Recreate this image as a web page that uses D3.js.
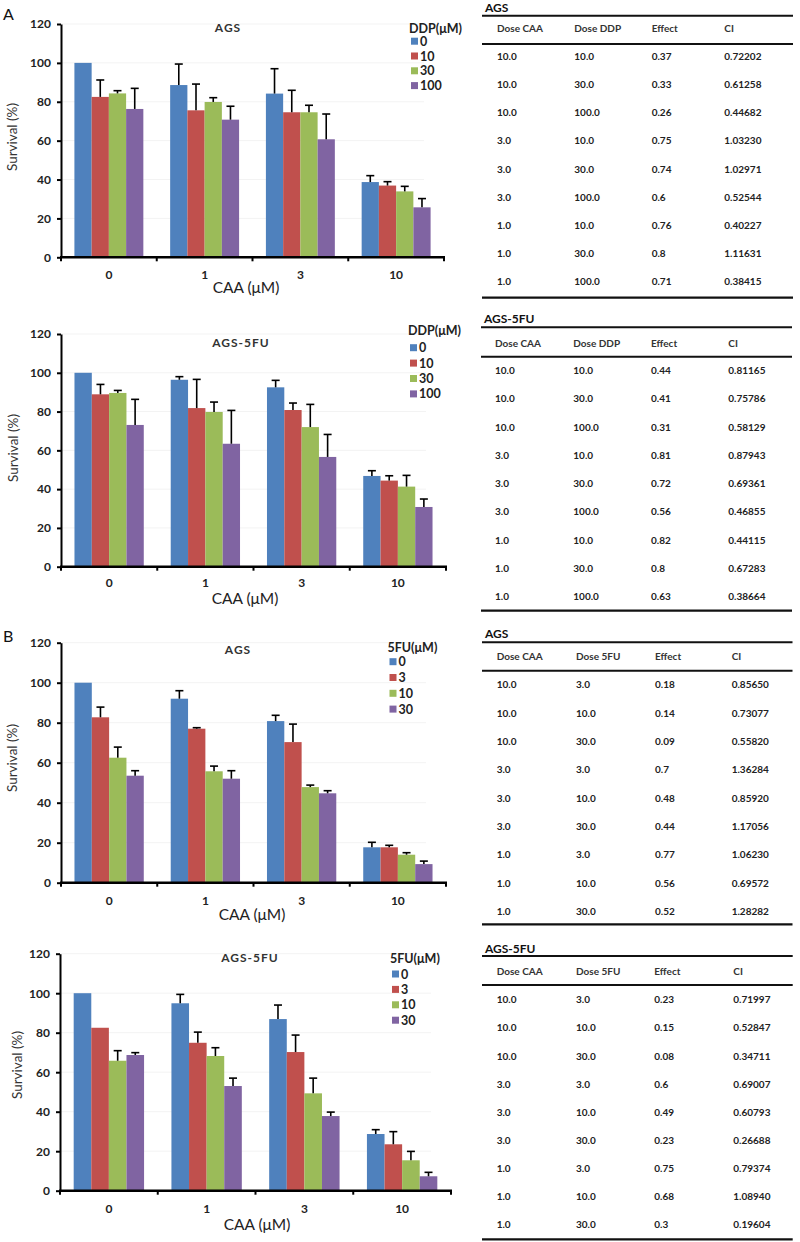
<!DOCTYPE html>
<html>
<head>
<meta charset="utf-8">
<script src="https://cdn.jsdelivr.net/npm/d3@7/dist/d3.min.js"></script>
<style>
  html, body { margin: 0; padding: 0; background: #fff; }
  svg { display: block; }
  text { font-family: Lato, "Open Sans", "Liberation Sans", sans-serif; }
</style>
</head>
<body>
<svg id="fig" width="800" height="1242"></svg>
<script>
// ---------------- DATA ----------------
const categories = ["0", "1", "3", "10"];           // CAA (µM)
const ddpLevels = ["0", "10", "30", "100"];         // DDP (µM)
const fuLevels = ["0", "3", "10", "30"];            // 5FU (µM)
const seriesColors = ["#4F81BD", "#C0504D", "#9BBB59", "#8064A2"];
const yTicks = [0, 20, 40, 60, 80, 100, 120];

// survival (%) per CAA group, one value per drug level
const agsDDP = [[100, 82.5, 84.3, 76.3], [88.6, 75.6, 79.9, 70.8], [84.2, 74.6, 74.6, 60.7], [38.7, 36.9, 33.9, 25.7]];
const agsDDPErr = [[0, 8.7, 1.4, 10.6], [10.8, 13.5, 2.2, 6.9], [12.8, 11.3, 3.6, 13.0], [3.3, 2.0, 2.6, 4.5]];

const ags5fuDDP = [[100, 88.9, 89.6, 73.1], [96.4, 81.8, 79.8, 63.4], [92.5, 80.8, 72.0, 56.6], [46.8, 44.4, 41.3, 30.8]];
const ags5fuDDPErr = [[0, 5.1, 1.3, 13.2], [1.6, 14.8, 5.1, 17.2], [3.6, 3.6, 11.7, 11.6], [2.7, 2.5, 5.8, 4.1]];

const ags5FU = [[100, 82.7, 62.5, 53.5], [92.0, 77.0, 55.7, 52.0], [80.8, 70.3, 47.8, 44.7], [17.7, 17.7, 14.0, 9.3]];
const ags5FUErr = [[0, 5.1, 5.3, 2.5], [4.0, 0.5, 2.6, 4.0], [2.9, 9.0, 1.0, 1.3], [2.5, 1.0, 1.0, 1.5]];

const ags5fu5FU = [[100, 82.5, 65.8, 68.7], [94.9, 74.9, 68.2, 53.0], [86.9, 70.2, 49.3, 37.8], [28.7, 23.5, 15.4, 7.3]];
const ags5fu5FUErr = [[0, 0, 5.1, 1.2], [4.5, 5.4, 4.2, 4.0], [7.1, 8.6, 7.7, 2.0], [2.2, 6.4, 4.5, 2.0]];

// combination index tables
const tableHeadDDP = ["Dose CAA", "Dose DDP", "Effect", "CI"];
const tableHead5FU = ["Dose CAA", "Dose 5FU", "Effect", "CI"];
const doseCAA = ["10.0", "10.0", "10.0", "3.0", "3.0", "3.0", "1.0", "1.0", "1.0"];
const doseDDP = ["10.0", "30.0", "100.0", "10.0", "30.0", "100.0", "10.0", "30.0", "100.0"];
const dose5FU = ["3.0", "10.0", "30.0", "3.0", "10.0", "30.0", "3.0", "10.0", "30.0"];
const effAgsDDP = ["0.37", "0.33", "0.26", "0.75", "0.74", "0.6", "0.76", "0.8", "0.71"];
const ciAgsDDP = ["0.72202", "0.61258", "0.44682", "1.03230", "1.02971", "0.52544", "0.40227", "1.11631", "0.38415"];
const effAgs5fuDDP = ["0.44", "0.41", "0.31", "0.81", "0.72", "0.56", "0.82", "0.8", "0.63"];
const ciAgs5fuDDP = ["0.81165", "0.75786", "0.58129", "0.87943", "0.69361", "0.46855", "0.44115", "0.67283", "0.38664"];
const effAgs5FU = ["0.18", "0.14", "0.09", "0.7", "0.48", "0.44", "0.77", "0.56", "0.52"];
const ciAgs5FU = ["0.85650", "0.73077", "0.55820", "1.36284", "0.85920", "1.17056", "1.06230", "0.69572", "1.28282"];
const effAgs5fu5FU = ["0.23", "0.15", "0.08", "0.6", "0.49", "0.23", "0.75", "0.68", "0.3"];
const ciAgs5fu5FU = ["0.71997", "0.52847", "0.34711", "0.69007", "0.60793", "0.26688", "0.79374", "1.08940", "0.19604"];

// ---------------- DRAWING ----------------
const svg = d3.select("#fig");

function drawChart(cfg) {
  const g = svg.append("g");
  const x = d3.scaleBand().domain(categories).range([cfg.x0, cfg.x1]).padding(0);
  const inner = d3.scaleBand().domain(d3.range(cfg.levels.length))
    .range([x.bandwidth() * 0.14, x.bandwidth() * 0.86]).padding(0);
  const y = d3.scaleLinear().domain([0, 120]).range([cfg.yb, cfg.yt]);

  // faint gridlines
  g.append("g").selectAll("line").data(yTicks.slice(1)).join("line")
    .attr("x1", cfg.x0).attr("x2", cfg.x1 - 20)
    .attr("y1", d => y(d)).attr("y2", d => y(d))
    .attr("stroke", "#f3f3f3").attr("stroke-width", 1);

  // bars
  const groups = g.append("g").selectAll("g").data(cfg.values).join("g")
    .attr("transform", (d, i) => `translate(${x(categories[i])},0)`);
  groups.selectAll("rect").data(d => d).join("rect")
    .attr("x", (d, j) => inner(j)).attr("width", inner.bandwidth())
    .attr("y", d => y(d)).attr("height", d => y(0) - y(d))
    .attr("fill", (d, j) => seriesColors[j]);

  // error bars (upper only)
  groups.each(function (row, i) {
    const eg = d3.select(this);
    row.forEach((v, j) => {
      const e = cfg.errors[i][j];
      if (!e) return;
      const cx = inner(j) + inner.bandwidth() / 2;
      eg.append("line").attr("x1", cx).attr("x2", cx)
        .attr("y1", y(v)).attr("y2", y(v + e))
        .attr("stroke", "#000").attr("stroke-width", 1.6);
      eg.append("line").attr("x1", cx - 4).attr("x2", cx + 4)
        .attr("y1", y(v + e)).attr("y2", y(v + e))
        .attr("stroke", "#000").attr("stroke-width", 1.6);
    });
  });

  // y axis
  const ya = g.append("g").attr("transform", `translate(${cfg.x0},0)`)
    .call(d3.axisLeft(y).tickValues(yTicks).tickSize(4).tickPadding(6).tickSizeOuter(0));
  ya.select(".domain").attr("stroke", "#000").attr("stroke-width", 2);
  ya.selectAll(".tick line").attr("stroke", "#000").attr("stroke-width", 2);
  ya.selectAll(".tick text").attr("font-size", 12).attr("font-weight", "bold").attr("fill", "#222");

  // x axis: line plus ticks at band boundaries
  const xa = g.append("g");
  xa.append("line").attr("x1", cfg.x0 - 1).attr("x2", cfg.x1 + 1)
    .attr("y1", y(0)).attr("y2", y(0)).attr("stroke", "#000").attr("stroke-width", 2.5);
  const bounds = categories.map(c => x(c)).concat([x(categories[categories.length - 1]) + x.bandwidth()]);
  xa.selectAll("line.tk").data(bounds).join("line").attr("class", "tk")
    .attr("x1", d => d).attr("x2", d => d).attr("y1", y(0)).attr("y2", y(0) + 4)
    .attr("stroke", "#000").attr("stroke-width", 2);
  xa.selectAll("text").data(categories).join("text")
    .attr("x", d => x(d) + x.bandwidth() / 2).attr("y", cfg.tickBase)
    .attr("text-anchor", "middle").attr("font-size", 12).attr("font-weight", "bold").attr("fill", "#222")
    .text(d => d);

  // titles / labels
  g.append("text").attr("x", cfg.titleX).attr("y", cfg.titleY).attr("text-anchor", "middle")
    .attr("font-size", 12).attr("font-weight", "bold").attr("letter-spacing", 1).attr("fill", "#333").text(cfg.title);
  g.append("text").attr("x", cfg.xlabX).attr("y", cfg.xlabY).attr("text-anchor", "middle")
    .attr("font-size", 15.5).attr("fill", "#222").text("CAA (μM)");
  g.append("text").attr("transform", `translate(${cfg.ylabX},${cfg.ylabY}) rotate(-90)`)
    .attr("text-anchor", "middle").attr("font-size", 13.5).attr("fill", "#333").text("Survival (%)");

  // legend
  const lg = g.append("g");
  lg.append("text").attr("x", cfg.legX - 2).attr("y", cfg.legTitleY)
    .attr("font-size", 12.5).attr("font-weight", "bold").attr("fill", "#222").text(cfg.legTitle);
  cfg.levels.forEach((lv, j) => {
    const cy = cfg.legY0 + j * cfg.legStep;
    lg.append("rect").attr("x", cfg.legX).attr("y", cy - 3.5).attr("width", 7).attr("height", 7)
      .attr("fill", seriesColors[j]);
    lg.append("text").attr("x", cfg.legX + 9).attr("y", cy + 4.5)
      .attr("font-size", 12.5).attr("font-weight", "bold").attr("fill", "#222").text(lv);
  });
}

function drawTable(cfg) {
  const g = svg.append("g");
  const cols = [cfg.c0, cfg.c1, cfg.c2, cfg.c3];
  g.append("text").attr("x", cfg.rx0 + 3).attr("y", cfg.titleY)
    .attr("font-size", 12).attr("font-weight", "bold").attr("fill", "#111").text(cfg.title);
  const rule = (yy, w) => g.append("line").attr("x1", cfg.rx0).attr("x2", cfg.rx1)
    .attr("y1", yy).attr("y2", yy).attr("stroke", "#111").attr("stroke-width", w);
  rule(cfg.topRule, 2);
  rule(cfg.headRule, 2);
  rule(cfg.botRule, 2.2);
  cfg.head.forEach((h, k) => g.append("text").attr("x", cols[k]).attr("y", cfg.headY)
    .attr("font-size", 10).attr("font-weight", "bold").attr("fill", "#333").text(h));
  const rows = d3.range(cfg.colA.length).map(i => [cfg.colA[i], cfg.colB[i], cfg.colC[i], cfg.colD[i]]);
  const rowY = d3.scaleLinear().domain([0, rows.length - 1]).range([cfg.row0, cfg.row8]);
  rows.forEach((r, i) => r.forEach((v, k) => g.append("text").attr("x", cols[k]).attr("y", rowY(i))
    .attr("font-size", 10).attr("font-weight", "bold").attr("fill", "#222").text(v)));
}

// panel letters
svg.append("text").attr("x", 3).attr("y", 20).attr("font-size", 16).attr("fill", "#111").text("A");
svg.append("text").attr("x", 3).attr("y", 642).attr("font-size", 16).attr("fill", "#111").text("B");

drawChart({ values: agsDDP, errors: agsDDPErr, levels: ddpLevels, legTitle: "DDP(μM)", title: "AGS",
  x0: 61, x1: 444, yb: 257.3, yt: 24, tickBase: 279, titleX: 228, titleY: 32,
  xlabX: 246, xlabY: 293, ylabX: 17, ylabY: 137,
  legX: 411, legTitleY: 33, legY0: 41.2, legStep: 14.8 });

drawChart({ values: ags5fuDDP, errors: ags5fuDDPErr, levels: ddpLevels, legTitle: "DDP(μM)", title: "AGS-5FU",
  x0: 61, x1: 446, yb: 566.7, yt: 334, tickBase: 586.5, titleX: 241, titleY: 346.5,
  xlabX: 245, xlabY: 604, ylabX: 18, ylabY: 448,
  legX: 410, legTitleY: 335, legY0: 347.7, legStep: 15.4 });

drawChart({ values: ags5FU, errors: ags5FUErr, levels: fuLevels, legTitle: "5FU(μM)", title: "AGS",
  x0: 61, x1: 446, yb: 882.7, yt: 642.7, tickBase: 905, titleX: 238, titleY: 653.5,
  xlabX: 252, xlabY: 920, ylabX: 17, ylabY: 758,
  legX: 389.5, legTitleY: 651.5, legY0: 661.7, legStep: 15.8 });

drawChart({ values: ags5fu5FU, errors: ags5fu5FUErr, levels: fuLevels, legTitle: "5FU(μM)", title: "AGS-5FU",
  x0: 60, x1: 451, yb: 1190.7, yt: 953.7, tickBase: 1212.5, titleX: 250, titleY: 961.5,
  xlabX: 257, xlabY: 1230, ylabX: 22, ylabY: 1065,
  legX: 392, legTitleY: 963.3, legY0: 974, legStep: 15.4 });

drawTable({ title: "AGS", head: tableHeadDDP, colA: doseCAA, colB: doseDDP, colC: effAgsDDP, colD: ciAgsDDP,
  rx0: 482, rx1: 793, titleY: 11.7, topRule: 15.7, headY: 31.7, headRule: 44, row0: 60, row8: 285, botRule: 297.7,
  c0: 497, c1: 574.3, c2: 651.7, c3: 724.3 });

drawTable({ title: "AGS-5FU", head: tableHeadDDP, colA: doseCAA, colB: doseDDP, colC: effAgs5fuDDP, colD: ciAgs5fuDDP,
  rx0: 481, rx1: 792, titleY: 323.3, topRule: 327.3, headY: 346.7, headRule: 356.7, row0: 374, row8: 600, botRule: 610.7,
  c0: 495, c1: 573.3, c2: 651, c3: 728.3 });

drawTable({ title: "AGS", head: tableHead5FU, colA: doseCAA, colB: dose5FU, colC: effAgs5FU, colD: ciAgs5FU,
  rx0: 482, rx1: 792.5, titleY: 638, topRule: 642.3, headY: 660, headRule: 670.7, row0: 688.3, row8: 915, botRule: 924.3,
  c0: 496.7, c1: 576, c2: 655, c3: 731.7 });

drawTable({ title: "AGS-5FU", head: tableHead5FU, colA: doseCAA, colB: dose5FU, colC: effAgs5fu5FU, colD: ciAgs5fu5FU,
  rx0: 482, rx1: 792.7, titleY: 952.7, topRule: 956, headY: 975, headRule: 985, row0: 1003.3, row8: 1228.3, botRule: 1239.3,
  c0: 496.7, c1: 576, c2: 654.3, c3: 733.3 });
</script>
</body>
</html>
